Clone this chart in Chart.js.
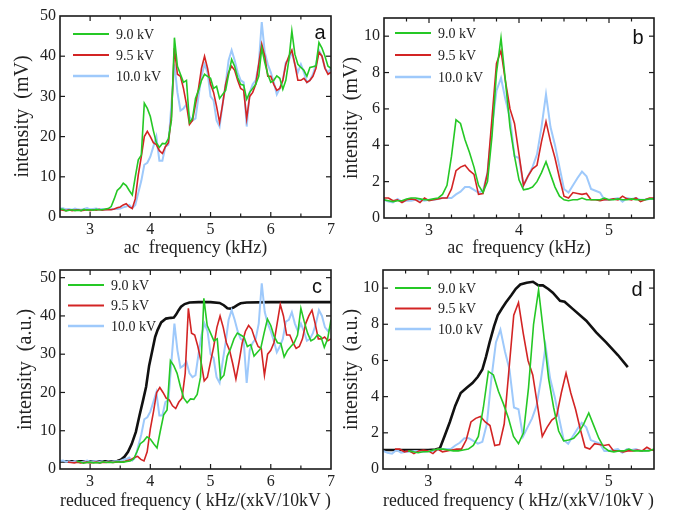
<!DOCTYPE html>
<html>
<head>
<meta charset="utf-8">
<script src="https://cdn.jsdelivr.net/npm/chart.js@4.4.0/dist/chart.umd.min.js"></script>
<style>
  html, body { margin: 0; padding: 0; background: #fff; width: 681px; height: 510px; overflow: hidden; }
  canvas { position: absolute; }
</style>
</head>
<body>
<canvas id="pa" width="340" height="265" style="left:0;top:0;width:340px;height:265px"></canvas>
<canvas id="pc" width="360" height="265" style="left:0;top:255px;width:360px;height:265px"></canvas>
<canvas id="pb" width="341" height="265" style="left:340px;top:0;width:341px;height:265px"></canvas>
<canvas id="pd" width="341" height="265" style="left:340px;top:255px;width:341px;height:265px"></canvas>
<script>
"use strict";

// ── Data ──────────────────────────────────────────────────────────────────────
const KV          = [9.0, 9.5, 10.0];
const LABELS      = ["9.0 kV", "9.5 kV", "10.0 kV"];

// panel a: ac frequency (kHz) vs intensity (mV)
const FREQ_A = [
  2.50, 2.55, 2.60, 2.65, 2.70, 2.75, 2.80, 2.85, 2.90, 2.95,
  3.00, 3.05, 3.10, 3.15, 3.20, 3.25, 3.30, 3.35, 3.40, 3.45,
  3.50, 3.55, 3.60, 3.65, 3.70, 3.75, 3.80, 3.85, 3.90, 3.95,
  4.00, 4.05, 4.10, 4.15, 4.20, 4.25, 4.30, 4.35, 4.40, 4.45,
  4.50, 4.55, 4.60, 4.65, 4.70, 4.75, 4.80, 4.85, 4.90, 4.95,
  5.00, 5.05, 5.10, 5.15, 5.20, 5.25, 5.30, 5.35, 5.40, 5.45,
  5.50, 5.55, 5.60, 5.65, 5.70, 5.75, 5.80, 5.85, 5.90, 5.95,
  6.00, 6.05, 6.10, 6.15, 6.20, 6.25, 6.30, 6.35, 6.40, 6.45,
  6.50, 6.55, 6.60, 6.65, 6.70, 6.75, 6.80, 6.85, 6.90, 6.95,
  7.00,
];
const A_90 = [
  2.0, 1.9, 1.5, 1.7, 1.8, 1.6, 1.7, 1.6, 1.9, 1.7,
  1.8, 1.7, 1.9, 1.8, 1.8, 2.0, 2.1, 2.6, 4.5, 6.6,
  7.3, 8.4, 7.8, 6.6, 5.5, 10.0, 14.2, 15.4, 28.3, 27.0,
  25.0, 21.5, 18.5, 17.3, 18.3, 18.2, 19.5, 24.0, 44.6, 37.5,
  35.5, 33.5, 34.0, 23.5, 24.5, 29.5, 31.5, 34.0, 35.5, 35.0,
  34.5, 32.0, 32.5, 29.5, 30.5, 31.5, 35.5, 39.2, 37.5, 34.7,
  33.0, 32.8, 29.3, 31.0, 32.0, 33.0, 35.0, 42.0, 38.5, 35.5,
  33.5, 34.0, 35.1, 34.5, 31.8, 34.0, 39.0, 46.3, 40.5, 38.0,
  37.2, 36.5, 35.0, 37.2, 37.4, 37.6, 43.4, 42.0, 40.0, 37.5,
  37.0,
];
const A_95 = [
  1.8, 1.7, 1.6, 1.8, 1.6, 1.7, 1.8, 1.6, 1.7, 1.8,
  1.6, 1.8, 1.7, 1.9, 1.7, 1.8, 1.9, 1.8, 2.0, 2.3,
  2.5, 3.0, 3.3, 2.5, 2.1, 4.5, 10.5, 15.0, 20.0, 21.3,
  20.0, 18.5, 18.0, 16.5, 15.8, 17.5, 18.5, 25.0, 42.0, 35.5,
  35.0, 32.0, 28.0, 23.0, 24.0, 28.0, 32.0, 37.0, 40.0, 37.0,
  33.0, 31.0, 27.5, 23.5, 28.0, 33.0, 36.0, 37.5, 36.5, 34.0,
  32.0, 31.5, 24.5, 30.0, 31.0, 33.0, 38.0, 43.0, 40.0, 35.0,
  35.0, 33.0, 31.5, 32.0, 34.0, 38.0, 40.0, 41.5, 38.0, 34.0,
  34.0, 34.5, 33.5, 34.0, 35.0, 37.0, 41.0, 40.0, 37.0, 35.5,
  36.0,
];
const A_100 = [
  2.1, 2.2, 1.9, 2.0, 1.8, 2.1, 1.9, 1.8, 2.0, 2.2,
  1.9, 2.0, 2.1, 1.9, 2.0, 1.8, 2.0, 1.9, 2.0, 2.0,
  2.1, 2.4, 2.6, 3.0, 2.2, 3.0, 6.0, 9.0, 13.0, 13.5,
  15.0, 17.5, 20.0, 14.0, 14.0, 17.5, 18.0, 28.0, 38.0, 31.0,
  26.5, 27.0, 28.0, 25.0, 24.0, 24.5, 30.0, 35.0, 38.0, 36.0,
  30.0, 29.0, 24.0, 22.5, 28.0, 33.0, 39.0, 41.5, 39.0, 36.0,
  34.0, 33.5, 22.5, 31.0, 33.0, 34.0, 38.0, 48.5, 41.0, 38.0,
  36.0, 33.5, 30.5, 32.0, 34.0, 38.5, 39.0, 41.0, 38.0, 36.0,
  38.0, 36.0, 33.5, 34.0, 35.5, 38.0, 41.5, 40.0, 37.0, 36.0,
  37.0,
];

// panel b: ac frequency (kHz) vs intensity (mV)
const FREQ_B = [
  2.50, 2.55, 2.60, 2.65, 2.70, 2.75, 2.80, 2.85, 2.90, 2.95,
  3.00, 3.05, 3.10, 3.15, 3.20, 3.25, 3.30, 3.35, 3.40, 3.45,
  3.50, 3.55, 3.60, 3.65, 3.70, 3.75, 3.80, 3.85, 3.90, 3.95,
  4.00, 4.05, 4.10, 4.15, 4.20, 4.25, 4.30, 4.35, 4.40, 4.45,
  4.50, 4.55, 4.60, 4.65, 4.70, 4.75, 4.80, 4.85, 4.90, 4.95,
  5.00, 5.05, 5.10, 5.15, 5.20, 5.25, 5.30, 5.35, 5.40, 5.45,
  5.50,
];
const B_90 = [
  1.0, 0.95, 0.9, 0.95, 0.95, 1.05, 1.1, 1.1, 1.05, 1.0,
  1.0, 1.05, 1.1, 1.3, 1.8, 3.4, 5.4, 5.2, 4.3, 3.6,
  2.8, 1.8, 1.4, 2.0, 4.5, 8.0, 9.9, 7.5, 5.0, 3.4,
  2.1, 1.55, 1.6, 1.7, 2.0, 2.5, 3.1, 2.4, 1.7, 1.2,
  1.0, 0.95, 1.0, 1.0, 1.1, 1.0, 1.0, 1.0, 1.0, 1.1,
  1.0, 1.0, 1.05, 1.0, 1.0, 1.05, 1.0, 1.0, 1.0, 1.05,
  1.05,
];
const B_95 = [
  1.1, 1.1, 0.95, 1.0, 0.85, 1.0, 1.05, 1.0, 0.85, 1.1,
  0.95, 1.0, 1.05, 1.1, 1.1, 1.6, 2.6, 2.8, 2.9, 2.6,
  2.4, 1.3, 1.35, 2.5, 5.5, 8.5, 9.2, 7.5, 6.0, 5.2,
  3.5, 1.8, 2.3, 2.7, 2.9, 4.2, 5.3, 4.2, 3.3, 2.2,
  1.2, 1.1, 1.4, 1.35, 1.3, 1.35, 1.0, 1.0, 0.95, 1.0,
  1.0, 1.05, 1.0, 1.2, 1.05, 1.0, 1.1, 0.9, 1.0, 1.1,
  1.1,
];
const B_100 = [
  1.0, 0.9, 0.85, 1.05, 0.9, 0.95, 0.95, 1.0, 1.0, 0.95,
  1.0, 1.0, 1.05, 1.1, 1.1, 1.1, 1.3, 1.45, 1.7, 1.7,
  1.55, 1.4, 1.5, 2.5, 5.0, 7.0, 7.7, 6.5, 5.5, 3.4,
  3.3, 1.8, 2.3, 2.8, 3.5, 5.0, 6.8, 5.0, 4.0, 2.8,
  1.6, 1.4, 1.8, 2.2, 2.55, 2.3, 1.6, 1.5, 1.4, 1.0,
  1.0, 1.05, 1.1, 0.9, 1.1, 1.05, 1.1, 1.0, 1.0, 1.05,
  1.05,
];

// black envelope curves of panels c and d
const ENV_C_X = [2.50, 3.00, 3.45, 3.51, 3.57, 3.63, 3.69, 3.76, 3.82, 3.88,
                 3.93, 3.98, 4.04, 4.08, 4.12, 4.18, 4.26, 4.34, 4.39, 4.43,
                 4.47, 4.51, 4.57, 4.65, 4.80, 5.00, 5.15, 5.22, 5.28, 5.33,
                 5.38, 5.45, 5.50, 5.60, 6.00, 6.50, 7.00];
const ENV_C_Y = [2.0, 2.0, 2.1, 2.4, 3.2, 4.5, 6.5, 9.7, 14.0, 18.0,
                 21.5, 27.0, 31.5, 34.5, 36.3, 38.3, 39.3, 39.5, 39.6, 40.4,
                 41.5, 42.4, 43.1, 43.5, 43.6, 43.6, 43.4, 42.8, 42.0, 41.9,
                 42.2, 42.9, 43.3, 43.5, 43.6, 43.6, 43.6];
const ENV_D_X = [2.50, 3.00, 3.08, 3.13, 3.18, 3.24, 3.30, 3.36, 3.43, 3.49,
                 3.55, 3.60, 3.64, 3.68, 3.73, 3.77, 3.82, 3.86, 3.92, 3.97,
                 4.02, 4.09, 4.16, 4.22, 4.27, 4.33, 4.38, 4.46, 4.51, 4.60,
                 4.75, 4.86, 4.97, 5.10, 5.21];
const ENV_D_Y = [1.05, 1.05, 1.08, 1.15, 1.8, 2.6, 3.5, 4.2, 4.5, 4.75,
                 5.1, 5.5, 6.2, 7.0, 7.9, 8.5, 8.9, 9.2, 9.6, 9.96,
                 10.2, 10.3, 10.35, 10.15, 10.15, 9.95, 9.75, 9.3, 9.25, 8.85,
                 8.2, 7.55, 7.0, 6.3, 5.63];

// ── Styles ────────────────────────────────────────────────────────────────────
const C = {
  kv90:  "#25c825",
  kv95:  "#d32424",
  kv100: "#9ec9fb",
  env:   "#111111",
  axis:  "#1a1a1a",
};
const SERIF = "'Liberation Serif', 'DejaVu Serif', serif";
const SANS  = "'Liberation Sans', Arial, sans-serif";

// ── Helpers ───────────────────────────────────────────────────────────────────
function pairs(xs, ys) {
  return xs.map((x, i) => ({ x, y: ys[i] }));
}

// reduced frequency = f / (V / 10 kV)
function reduced(xs, kv) {
  return xs.map(f => f * 10 / kv);
}

function isWhole(v, step) {
  return Math.abs(v / step - Math.round(v / step)) < 1e-6;
}

function seriesSets(xs, ys, reduce) {
  const colors = [C.kv90, C.kv95, C.kv100];
  return ys.map((y, i) => ({
    label:       LABELS[i],
    data:        pairs(reduce ? reduced(xs, KV[i]) : xs, y),
    borderColor: colors[i],
    borderWidth: i === 2 ? 2 : 1.6,
    pointRadius: 0,
    tension:     0,
    order:       i === 2 ? 3 : i === 1 ? 2 : 1,
  }));
}

// frame, inward ticks on all four sides, legend inside the plot, panel letter
const panelPlugin = {
  id: "panel",
  afterDraw(chart, args, o) {
    const { ctx, chartArea: a, scales } = chart;
    ctx.save();
    ctx.strokeStyle = C.axis;
    ctx.lineWidth   = 1.2;
    const seg = (x1, y1, x2, y2) => {
      ctx.beginPath(); ctx.moveTo(x1, y1); ctx.lineTo(x2, y2); ctx.stroke();
    };
    for (const t of scales.x.ticks) {
      const px = scales.x.getPixelForValue(t.value);
      if (px <= a.left + 1 || px >= a.right - 1) continue;
      const len = t.label !== "" ? 5 : 3.5;
      seg(px, a.bottom, px, a.bottom - len);
      seg(px, a.top, px, a.top + len);
    }
    for (const t of scales.y.ticks) {
      const py = scales.y.getPixelForValue(t.value);
      if (py <= a.top + 1 || py >= a.bottom - 1) continue;
      const len = t.label !== "" ? 5 : 3.5;
      seg(a.left, py, a.left + len, py);
      seg(a.right, py, a.right - len, py);
    }
    ctx.lineWidth = 1.6;
    ctx.strokeRect(a.left, a.top, a.right - a.left, a.bottom - a.top);

    // legend
    const lg = o.legend;
    let row = 0;
    ctx.font = `14px ${SERIF}`;
    ctx.textBaseline = "middle";
    ctx.fillStyle = "#222";
    chart.data.datasets.forEach(ds => {
      if (!ds.label) return;
      const y = a.top + lg.dy + row * lg.gap;
      const x = a.left + lg.dx;
      ctx.strokeStyle = ds.borderColor;
      ctx.lineWidth = ds.borderWidth + 0.4;
      seg(x, y, x + 36, y);
      ctx.fillText(ds.label, x + 43, y + 1);
      row++;
    });

    // panel letter
    ctx.font = `20px ${SANS}`;
    ctx.fillStyle = "#111";
    ctx.textAlign = "center";
    ctx.fillText(o.letter, a.right + o.letterDx, a.top + o.letterDy);
    ctx.restore();
  },
};

function makePanel(id, cfg) {
  return new Chart(document.getElementById(id), {
    type: "line",
    data: { datasets: cfg.datasets },
    plugins: [panelPlugin],
    options: {
      responsive: false,
      devicePixelRatio: 1,
      animation: false,
      layout: { padding: { left: 0, right: cfg.padRight, top: cfg.padTop, bottom: 0 } },
      plugins: {
        legend:  { display: false },
        tooltip: { enabled: false },
        panel:   cfg.panel,
      },
      scales: {
        x: {
          type: "linear",
          min: cfg.xMin, max: cfg.xMax,
          grid: { display: false, drawTicks: false },
          border: { display: false },
          afterFit: s => { s.height = cfg.xHeight; },
          ticks: {
            stepSize: cfg.xStep,
            autoSkip: false,
            maxRotation: 0,
            padding: 3,
            color: "#222",
            font: { family: SERIF, size: 16 },
            callback: v => isWhole(v, 1) ? String(v) : "",
          },
          title: {
            display: true,
            text: cfg.xTitle,
            color: "#222",
            font: { family: SERIF, size: cfg.xTitleSize },
            padding: { top: 0, bottom: cfg.xTitlePad },
          },
        },
        y: {
          min: 0, max: cfg.yMax,
          grid: { display: false, drawTicks: false },
          border: { display: false },
          afterFit: s => { s.width = cfg.yWidth; },
          ticks: {
            stepSize: cfg.yStep,
            includeBounds: false,
            padding: 4,
            color: "#222",
            font: { family: SERIF, size: 16 },
            callback: v => (isWhole(v, cfg.yMajor) && v <= cfg.yLabelMax) ? String(v) : "",
          },
          title: {
            display: true,
            text: cfg.yTitle,
            color: "#222",
            font: { family: SERIF, size: cfg.yTitleSize },
            padding: { top: cfg.yTitlePad, bottom: 0 },
          },
        },
      },
    },
  });
}

function envelope(xs, ys) {
  return {
    label:       "",
    data:        pairs(xs, ys),
    borderColor: C.env,
    borderWidth: 2.6,
    pointRadius: 0,
    tension:     0,
    order:       10,
  };
}

// ── Panels ────────────────────────────────────────────────────────────────────
makePanel("pa", {
  datasets: seriesSets(FREQ_A, [A_90, A_95, A_100], false),
  xMin: 2.5, xMax: 7, xStep: 0.5, yMax: 50, yStep: 5, yMajor: 10, yLabelMax: 50,
  padRight: 9, padTop: 16, xHeight: 48, yWidth: 60,
  xTitle: "ac  frequency (kHz)", xTitleSize: 18, xTitlePad: 6,
  yTitle: "intensity  (mV)", yTitleSize: 20, yTitlePad: 11,
  panel: { legend: { dx: 13, dy: 18, gap: 21 }, letter: "a", letterDx: -11, letterDy: 17 },
});

makePanel("pb", {
  datasets: seriesSets(FREQ_B, [B_90, B_95, B_100], false),
  xMin: 2.5, xMax: 5.5, xStep: 0.25, yMax: 11, yStep: 1, yMajor: 2, yLabelMax: 10,
  padRight: 27, padTop: 18, xHeight: 47, yWidth: 44,
  xTitle: "ac  frequency (kHz)", xTitleSize: 18, xTitlePad: 6,
  yTitle: "intensity  (mV)", yTitleSize: 20, yTitlePad: 0,
  panel: { legend: { dx: 11, dy: 15, gap: 22 }, letter: "b", letterDx: -16, letterDy: 20 },
});

makePanel("pc", {
  datasets: [envelope(ENV_C_X, ENV_C_Y)].concat(seriesSets(FREQ_A, [A_90, A_95, A_100], true)),
  xMin: 2.5, xMax: 7, xStep: 0.5, yMax: 52, yStep: 5, yMajor: 10, yLabelMax: 50,
  padRight: 29, padTop: 15, xHeight: 51, yWidth: 60,
  xTitle: "reduced frequency ( kHz/(xkV/10kV )", xTitleSize: 18, xTitlePad: 8,
  yTitle: "intensity  (a.u.)", yTitleSize: 20, yTitlePad: 14,
  panel: { legend: { dx: 8, dy: 15, gap: 20.5 }, letter: "c", letterDx: -14, letterDy: 17 },
});

makePanel("pd", {
  datasets: [envelope(ENV_D_X, ENV_D_Y)].concat(seriesSets(FREQ_B, [B_90, B_95, B_100], true)),
  xMin: 2.5, xMax: 5.5, xStep: 0.25, yMax: 11, yStep: 1, yMajor: 2, yLabelMax: 10,
  padRight: 27, padTop: 15, xHeight: 51, yWidth: 43,
  xTitle: "reduced frequency ( kHz/(xkV/10kV )", xTitleSize: 18, xTitlePad: 8,
  yTitle: "intensity  (a.u.)", yTitleSize: 20, yTitlePad: 0,
  panel: { legend: { dx: 12, dy: 18, gap: 20.5 }, letter: "d", letterDx: -17, letterDy: 20 },
});
</script>
</body>
</html>
